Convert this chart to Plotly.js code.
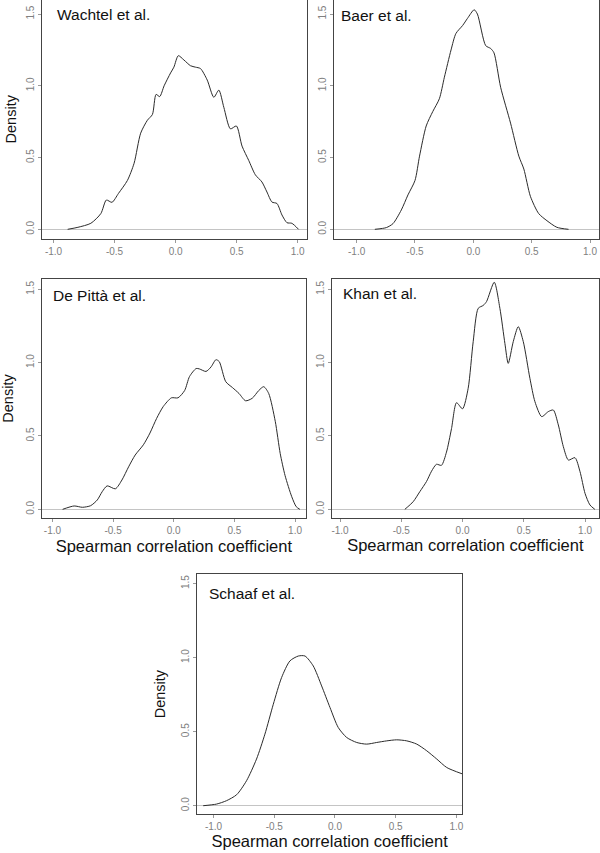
<!DOCTYPE html>
<html>
<head>
<meta charset="utf-8">
<script src="https://cdn.plot.ly/plotly-3.0.1.min.js"></script>
<style>
html,body{margin:0;padding:0;background:#fff;}
#chart{width:600px;height:853px;}
</style>
</head>
<body>
<div id="chart"></div>
<script>
// ---------- data ----------
const wachtelX = [-0.884, -0.80, -0.694, -0.612, -0.567, -0.521, -0.468, -0.395, -0.340, -0.286, -0.231, -0.19, -0.16, -0.13, -0.094, -0.041, -0.014, 0.022, 0.068, 0.122, 0.163, 0.204, 0.259, 0.313, 0.354, 0.395, 0.449, 0.498, 0.544, 0.599, 0.653, 0.707, 0.748, 0.789, 0.830, 0.871, 0.912, 0.952, 1.007];
const wachtelY = [0, 0.014, 0.042, 0.11, 0.204, 0.188, 0.25, 0.34, 0.46, 0.67, 0.76, 0.80, 0.94, 0.925, 1.00, 1.09, 1.13, 1.21, 1.18, 1.14, 1.13, 1.12, 1.04, 0.92, 0.97, 0.85, 0.70, 0.72, 0.58, 0.48, 0.38, 0.33, 0.26, 0.19, 0.18, 0.10, 0.046, 0.042, 0];

const baerX = [-0.844, -0.745, -0.688, -0.617, -0.56, -0.50, -0.461, -0.404, -0.348, -0.291, -0.248, -0.191, -0.149, -0.092, -0.05, 0.007, 0.035, 0.106, 0.149, 0.177, 0.234, 0.319, 0.390, 0.433, 0.489, 0.560, 0.631, 0.716, 0.816];
const baerY = [0, 0.012, 0.04, 0.135, 0.24, 0.34, 0.51, 0.72, 0.82, 0.91, 1.06, 1.25, 1.365, 1.42, 1.47, 1.53, 1.50, 1.28, 1.26, 1.23, 0.99, 0.74, 0.51, 0.42, 0.23, 0.11, 0.06, 0.014, 0];

const depittaX = [-0.916, -0.821, -0.753, -0.685, -0.630, -0.590, -0.549, -0.481, -0.427, -0.372, -0.318, -0.25, -0.196, -0.141, -0.087, -0.019, 0.035, 0.090, 0.13, 0.185, 0.212, 0.266, 0.307, 0.348, 0.375, 0.429, 0.484, 0.538, 0.592, 0.647, 0.701, 0.742, 0.783, 0.837, 0.878, 0.918, 0.973, 1.01, 1.04];
const depittaY = [0, 0.023, 0.014, 0.025, 0.064, 0.12, 0.16, 0.14, 0.20, 0.29, 0.37, 0.44, 0.52, 0.62, 0.70, 0.76, 0.76, 0.81, 0.905, 0.96, 0.957, 0.94, 0.97, 1.02, 1.007, 0.87, 0.83, 0.79, 0.74, 0.757, 0.81, 0.836, 0.79, 0.60, 0.38, 0.23, 0.086, 0.018, 0];

const khanX = [-0.471, -0.403, -0.349, -0.294, -0.253, -0.213, -0.172, -0.131, -0.09, -0.049, 0.0, 0.046, 0.087, 0.128, 0.169, 0.196, 0.259, 0.305, 0.346, 0.373, 0.414, 0.455, 0.496, 0.550, 0.591, 0.646, 0.700, 0.741, 0.782, 0.823, 0.864, 0.918, 0.959, 1.0, 1.04, 1.08];
const khanY = [0, 0.052, 0.12, 0.19, 0.26, 0.307, 0.30, 0.39, 0.55, 0.727, 0.685, 0.825, 1.143, 1.37, 1.39, 1.416, 1.548, 1.37, 1.13, 0.995, 1.143, 1.245, 1.143, 0.893, 0.734, 0.632, 0.666, 0.677, 0.575, 0.427, 0.336, 0.352, 0.257, 0.109, 0.03, 0];

const schaafX = [-1.085, -0.975, -0.893, -0.81, -0.728, -0.646, -0.577, -0.508, -0.44, -0.371, -0.302, -0.247, -0.179, -0.11, -0.041, 0.027, 0.096, 0.179, 0.261, 0.343, 0.426, 0.508, 0.591, 0.673, 0.755, 0.838, 0.92, 1.048];
const schaafY = [0, 0.011, 0.034, 0.074, 0.169, 0.315, 0.483, 0.685, 0.865, 0.978, 1.011, 1.011, 0.944, 0.809, 0.663, 0.528, 0.461, 0.427, 0.416, 0.427, 0.438, 0.445, 0.438, 0.416, 0.371, 0.315, 0.258, 0.215];

const panelLabels = ["Wachtel et al.", "Baer et al.", "De Pittà et al.", "Khan et al.", "Schaaf et al."];
const xTickVals = [-1, -0.5, 0, 0.5, 1];
const xTickText = ["-1.0", "-0.5", "0.0", "0.5", "1.0"];
const yTickVals = [0, 0.5, 1, 1.5];
const yTickText = ["0.0", "0.5", "1.0", "1.5"];
const yAxisTitle = "Density";
const xAxisTitle = "Spearman correlation coefficient";

const seriesX = [wachtelX, baerX, depittaX, khanX, schaafX];
const seriesY = [wachtelY, baerY, depittaY, khanY, schaafY];

// ---------- layout geometry (pixels in a 600x853 page) ----------
const W = 600, H = 853;
const FONT = "Liberation Sans, Arial, sans-serif";
const panels = [
  {box: [42.3, 0, 306.7, 238.5], xr: [-1.0916, 1.0736], yr: [-0.064, 1.598], lab: [55, 15], ytitle: true,  ystand: 4.5, xtitle: false},
  {box: [334, 0, 599, 238.5],    xr: [-1.194, 1.077],   yr: [-0.064, 1.598], lab: [339, 16], ytitle: false, xtitle: false},
  {box: [42, 279, 305.7, 518],   xr: [-1.086, 1.088],   yr: [-0.059, 1.570], lab: [51, 295], ytitle: true,  ystand: 13.5, xtitle: true, xstand: 5},
  {box: [331.7, 279, 599, 518],  xr: [-1.068, 1.114],   yr: [-0.059, 1.570], lab: [341, 293], ytitle: false, xtitle: true, xstand: 4},
  {box: [197, 574.3, 462.3, 814],xr: [-1.136, 1.048],   yr: [-0.056, 1.563], lab: [207, 593], ytitle: true,  ystand: 10, xtitle: true, xstand: 4}
];

const traces = [];
const layout = {
  width: W, height: H,
  margin: {l: 0, r: 0, t: 0, b: 0},
  paper_bgcolor: '#fff', plot_bgcolor: '#fff',
  showlegend: false,
  font: {family: FONT, color: '#111'},
  annotations: []
};

panels.forEach((p, i) => {
  const n = i === 0 ? '' : String(i + 1);
  traces.push({
    x: seriesX[i], y: seriesY[i],
    xaxis: 'x' + n, yaxis: 'y' + n,
    type: 'scatter', mode: 'lines',
    line: {color: '#2b2b2b', width: 1, shape: 'spline', smoothing: 0.7},
    hoverinfo: 'skip'
  });
  const common = {
    showline: true, mirror: true, linecolor: '#444', linewidth: 1,
    showgrid: false, ticks: 'outside', ticklen: 3, tickcolor: '#9a9a9a', tickwidth: 1,
    tickfont: {family: FONT, size: 10, color: '#808080'},
    fixedrange: true, automargin: false
  };
  layout['xaxis' + n] = Object.assign({}, common, {
    domain: [p.box[0] / W, p.box[2] / W],
    range: p.xr, anchor: 'y' + n,
    zeroline: false,
    tickmode: 'array', tickvals: xTickVals, ticktext: xTickText,
    title: p.xtitle ? {text: xAxisTitle, font: {family: FONT, size: 16.5, color: '#111'}, standoff: p.xstand} : {text: ''}
  });
  layout['yaxis' + n] = Object.assign({}, common, {
    domain: [1 - p.box[3] / H, 1 - p.box[1] / H],
    range: p.yr, anchor: 'x' + n,
    zeroline: true, zerolinecolor: '#c4c4c4', zerolinewidth: 1,
    tickmode: 'array', tickvals: yTickVals, ticktext: yTickText, tickangle: -90,
    title: p.ytitle ? {text: yAxisTitle, font: {family: FONT, size: 14.5, color: '#111'}, standoff: p.ystand} : {text: ''}
  });
  layout.annotations.push({
    text: panelLabels[i], xref: 'paper', yref: 'paper',
    x: p.lab[0] / W, y: 1 - p.lab[1] / H,
    xanchor: 'left', yanchor: 'middle', showarrow: false,
    font: {family: FONT, size: 15.5, color: '#111'}
  });
});

Plotly.newPlot('chart', traces, layout, {displayModeBar: false, staticPlot: true});
</script>
</body>
</html>
